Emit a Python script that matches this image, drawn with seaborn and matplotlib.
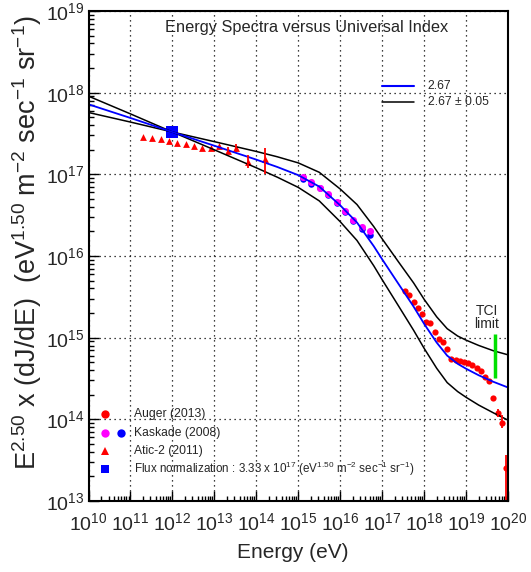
import numpy as np
import pandas as pd
import seaborn as sns
import matplotlib.pyplot as plt
from matplotlib.ticker import LogLocator, LogFormatterSciNotation, NullFormatter

# model curves, log10(E) vs log10(E^2.5 dJ/dE)
model_logE = [10.0, 11.0, 12.0, 13.0, 14.0, 14.5, 15.0, 15.5, 16.0, 16.4, 16.8,
              17.0, 17.4, 17.75, 18.0, 18.3, 18.55, 18.8, 19.0, 19.3, 19.65, 20.0]
index_267 = [17.857, 17.69, 17.518, 17.35, 17.18, 17.09, 16.99, 16.85, 16.62, 16.41, 16.12,
             15.96, 15.65, 15.38, 15.17, 14.94, 14.78, 14.68, 14.62, 14.54, 14.46, 14.39]
index_262 = [17.757, 17.64, 17.518, 17.40, 17.28, 17.215, 17.14, 17.025, 16.82, 16.63, 16.36,
             16.21, 15.92, 15.67, 15.47, 15.255, 15.11, 15.02, 14.97, 14.905, 14.84, 14.79]
index_272 = [17.957, 17.74, 17.518, 17.30, 17.08, 16.965, 16.84, 16.675, 16.42, 16.19, 15.88,
             15.71, 15.38, 15.09, 14.87, 14.625, 14.45, 14.34, 14.27, 14.175, 14.08, 13.99]

# Auger (2013)
auger_logE = [17.55, 17.65, 17.75, 17.85, 17.95, 18.05, 18.15, 18.25, 18.35, 18.45, 18.55, 18.65,
              18.75, 18.85, 18.95, 19.05, 19.15, 19.25, 19.35, 19.45, 19.55, 19.65, 19.75, 19.85, 19.95]
auger_logF = [15.575, 15.519, 15.437, 15.367, 15.29, 15.188, 15.176, 15.069, 14.98, 14.943, 14.861, 14.739,
              14.73, 14.718, 14.699, 14.69, 14.669, 14.625, 14.592, 14.522, 14.473, 14.258, 14.081, 13.959, 13.404]
auger_lo = [0]*21 + [0.03, 0.05, 0.07, 0.6]
auger_hi = [0]*21 + [0.03, 0.05, 0.10, 0.16]

# Kaskade (2008)
kask_logE = [15.106, 15.304, 15.519, 15.717, 15.917, 16.115, 16.312, 16.513, 16.71]
kask_mag = [16.964, 16.902, 16.836, 16.755, 16.657, 16.551, 16.441, 16.359, 16.306]
kask_blue = [16.939, 16.881, 16.829, 16.747, 16.652, 16.542, 16.428, 16.327, 16.257]

# Atic-2 (2011)
atic_logE = [11.306, 11.52, 11.72, 11.92, 12.117, 12.317, 12.515, 12.71, 12.92, 13.118,
             13.318, 13.51, 13.81, 14.21]
atic_logF = [17.461, 17.449, 17.429, 17.408, 17.387, 17.371, 17.35, 17.326, 17.326, 17.35,
             17.289, 17.319, 17.155, 17.184]
atic_lo = [0]*10 + [0.04, 0.05, 0.075, 0.18]
atic_hi = [0]*10 + [0.05, 0.05, 0.08, 0.135]

norm_logE = [12.0]
norm_logF = [17.522]

tci_logE = 19.7
tci_range = [14.51, 15.04]


def lin(v):
    return 10 ** np.asarray(v, dtype=float)


def err(logf, lo, hi):
    f = lin(logf)
    return [f - lin(np.asarray(logf) - np.asarray(lo)), lin(np.asarray(logf) + np.asarray(hi)) - f]


sns.set_style("white")
plt.rcParams['font.family'] = ['Liberation Sans', 'DejaVu Sans']
plt.rcParams['mathtext.fontset'] = 'custom'
plt.rcParams['mathtext.rm'] = 'Liberation Sans'
plt.rcParams['mathtext.it'] = 'Liberation Sans:italic'
plt.rcParams['mathtext.default'] = 'regular'

fig = plt.figure(figsize=(5.31, 5.72), dpi=100)
ax = fig.add_axes([0.1667, 0.1241, 0.79, 0.8567])
ax.set_xscale('log')
ax.set_yscale('log')

dfm = pd.DataFrame({'E': lin(model_logE), 'b': lin(index_267),
                    'hard': lin(index_262), 'soft': lin(index_272)})
sns.lineplot(data=dfm, x='E', y='hard', color='black', lw=1.1, ax=ax, legend=False)
sns.lineplot(data=dfm, x='E', y='soft', color='black', lw=1.1, ax=ax, legend=False)
sns.lineplot(data=dfm, x='E', y='b', color='#0000ff', lw=1.3, ax=ax, legend=False)

ax.errorbar(lin(auger_logE), lin(auger_logF), yerr=err(auger_logF, auger_lo, auger_hi),
            fmt='none', ecolor='red', elinewidth=1.3)
ax.errorbar(lin(atic_logE), lin(atic_logF), yerr=err(atic_logF, atic_lo, atic_hi),
            fmt='none', ecolor='red', elinewidth=1.3)

sns.scatterplot(x=lin(auger_logE), y=lin(auger_logF), color='red', marker='o', s=20,
                linewidth=0, ax=ax, legend=False)
sns.scatterplot(x=lin(kask_logE), y=lin(kask_blue), color='#0000ff', marker='o', s=22,
                linewidth=0, ax=ax, legend=False)
sns.scatterplot(x=lin(kask_logE), y=lin(kask_mag), color='#ff00ff', marker='o', s=26,
                linewidth=0, ax=ax, legend=False)
sns.scatterplot(x=lin(atic_logE), y=lin(atic_logF), color='red', marker='^', s=24,
                linewidth=0, ax=ax, legend=False)
sns.scatterplot(x=lin(norm_logE), y=lin(norm_logF), color='#0000ff', marker='s', s=64,
                linewidth=0, ax=ax, legend=False)

ax.vlines(lin(tci_logE), lin(tci_range[0]), lin(tci_range[1]), color='#00e000', lw=2.5)
ax.text(lin(19.49), lin(15.33), 'TCI', ha='center', va='center', fontsize=10)
ax.text(lin(19.49), lin(15.17), 'limit', ha='center', va='center', fontsize=10)

ax.set_xlim(1e10, 1e20)
ax.set_ylim(1e13, 1e19)
ax.set_xlabel('')
ax.set_ylabel('')
ax.xaxis.set_major_locator(LogLocator(base=10, numticks=20))
ax.yaxis.set_major_locator(LogLocator(base=10, numticks=20))
ax.xaxis.set_minor_locator(LogLocator(base=10, subs=np.arange(2, 10), numticks=200))
ax.yaxis.set_minor_locator(LogLocator(base=10, subs=np.arange(2, 10), numticks=200))
ax.xaxis.set_major_formatter(LogFormatterSciNotation())
ax.yaxis.set_major_formatter(LogFormatterSciNotation())
ax.xaxis.set_minor_formatter(NullFormatter())
ax.yaxis.set_minor_formatter(NullFormatter())
ax.tick_params(which='both', direction='in', top=False, right=False, bottom=True, left=True,
               color='black', width=1)
ax.tick_params(which='major', length=7, labelsize=14)
ax.tick_params(axis='x', which='major', pad=8)
ax.tick_params(axis='y', which='major', pad=3)
ax.tick_params(which='minor', length=3.5)
ax.grid(True, which='major', ls=(0, (1, 3)), color='black', lw=0.9)
ax.grid(False, which='minor')
for sp in ax.spines.values():
    sp.set_color('black')
    sp.set_linewidth(1.5)

fig.text(293 / 531, 1 - 552 / 572, 'Energy (eV)', ha='center', va='center', fontsize=15)
fig.text(27 / 531, 1 - 243 / 572,
         r'E$^{2.50}$ x (dJ/dE)  (eV$^{1.50}$ m$^{-2}$ sec$^{-1}$ sr$^{-1}$)',
         rotation=90, ha='center', va='center', fontsize=19.5)

ax.text(0.521, 0.9655, 'Energy Spectra versus Universal Index', transform=ax.transAxes,
        ha='center', va='center', fontsize=11.8)

# top-right legend
ax.plot([0.700, 0.777], [0.846, 0.846], color='#0000ff', lw=1.5, transform=ax.transAxes)
ax.plot([0.700, 0.777], [0.814, 0.814], color='black', lw=1.1, transform=ax.transAxes)
ax.text(0.809, 0.846, '2.67', transform=ax.transAxes, va='center', fontsize=8.7)
ax.text(0.809, 0.814, '2.67 ± 0.05', transform=ax.transAxes, va='center', fontsize=8.7)

# bottom-left legend
lx, tx = 0.039, 0.108
ax.plot([lx], [0.178], 'o', color='red', ms=6, mew=0, transform=ax.transAxes)
ax.plot([lx], [0.139], 'o', color='#ff00ff', ms=6, mew=0, transform=ax.transAxes)
ax.plot([0.077], [0.139], 'o', color='#0000ff', ms=6, mew=0, transform=ax.transAxes)
ax.plot([lx], [0.102], '^', color='red', ms=6, mew=0, transform=ax.transAxes)
ax.plot([lx], [0.065], 's', color='#0000ff', ms=6, mew=0, transform=ax.transAxes)
ax.text(tx, 0.178, 'Auger (2013)', transform=ax.transAxes, va='center', fontsize=8.7)
ax.text(tx, 0.139, 'Kaskade (2008)', transform=ax.transAxes, va='center', fontsize=8.7)
ax.text(tx, 0.102, 'Atic-2 (2011)', transform=ax.transAxes, va='center', fontsize=8.7)
ax.text(tx, 0.065, r'Flux normalization : 3.33 x 10$^{17}$ (eV$^{1.50}$ m$^{-2}$ sec$^{-1}$ sr$^{-1}$)',
        transform=ax.transAxes, va='center', fontsize=8.4)

fig.savefig('out.png', dpi=100)
